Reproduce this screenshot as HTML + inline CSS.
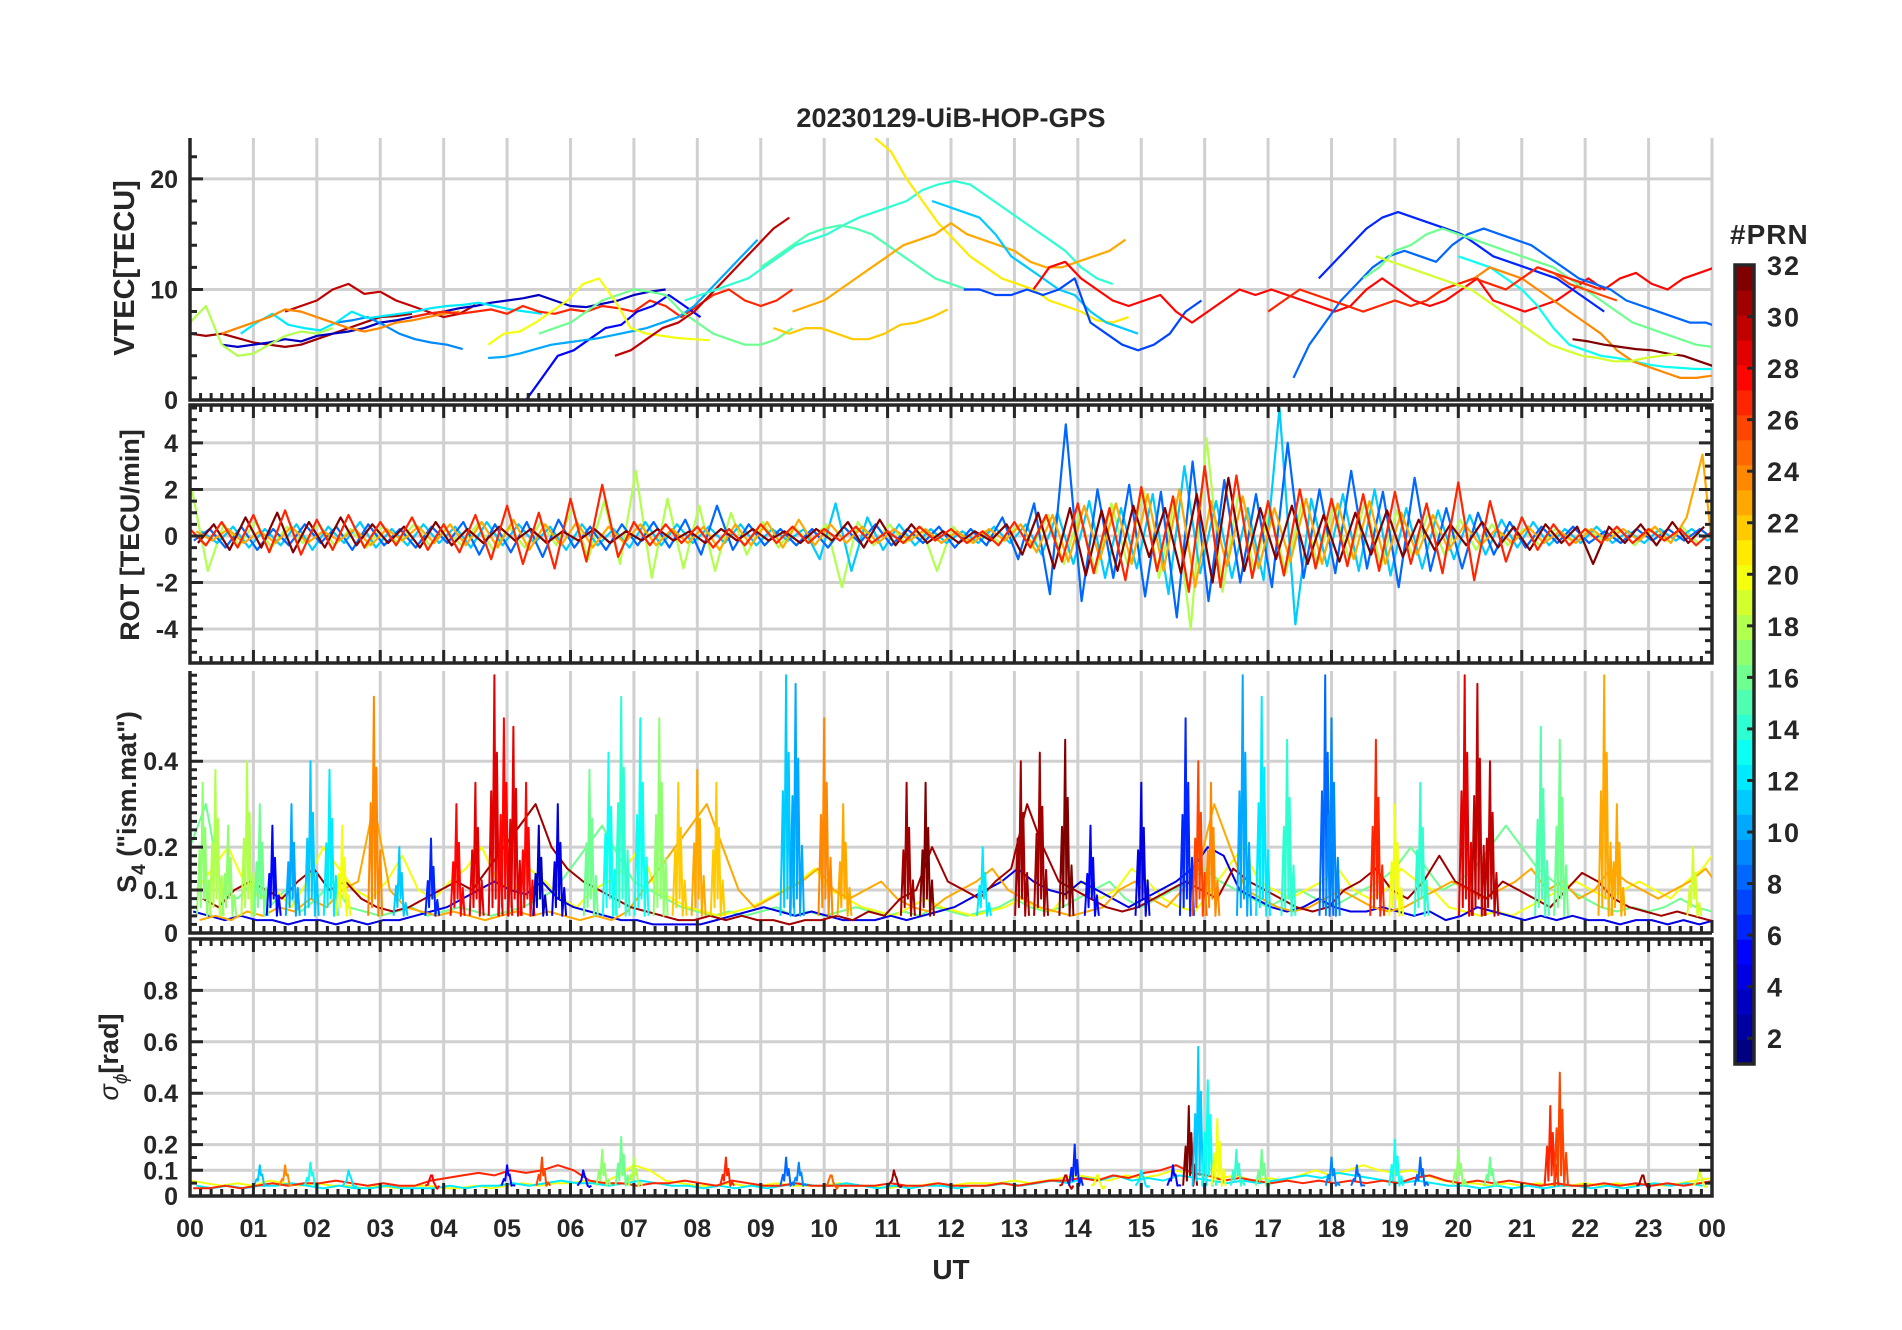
<!DOCTYPE html>
<html><head><meta charset="utf-8"><title>20230129-UiB-HOP-GPS</title>
<style>
html,body{margin:0;padding:0;background:#fff;}
svg{display:block;}
text{font-family:"Liberation Sans",sans-serif;font-weight:bold;fill:#262626;}
</style></head>
<body>
<svg id="chart" width="1902" height="1330" viewBox="0 0 1902 1330" xmlns="http://www.w3.org/2000/svg">
<rect x="0" y="0" width="1902" height="1330" fill="#fff"/>
<text x="951" y="127" text-anchor="middle" font-size="27">20230129-UiB-HOP-GPS</text>
<text x="951" y="1279" text-anchor="middle" font-size="28">UT</text>
<text transform="translate(134,268) rotate(-90)" text-anchor="middle" font-size="29">VTEC[TECU]</text>
<text transform="translate(139,535) rotate(-90)" text-anchor="middle" font-size="27">ROT [TECU/min]</text>
<text transform="translate(136,802) rotate(-90)" text-anchor="middle" font-size="27">S<tspan font-size="19" dy="9">4</tspan><tspan dy="-9"> ("ism.mat")</tspan></text>
<text transform="translate(118,1057) rotate(-90)" text-anchor="middle" font-size="27"><tspan font-style="italic" font-weight="normal">σ</tspan><tspan font-size="19" font-style="italic" font-weight="normal" dy="9">ϕ</tspan><tspan dy="-9">[rad]</tspan></text>
<text x="1730" y="244" font-size="28" letter-spacing="1">#PRN</text>
<g id="root"></g>
</svg>
<script>
// ---------- data ----------
const hourLabels = ["00","01","02","03","04","05","06","07","08","09","10","11","12","13","14","15","16","17","18","19","20","21","22","23","00"];
const colorbarTicks = [2,4,6,8,10,12,14,16,18,20,22,24,26,28,30,32];

// VTEC tracks (dt = 0.25 h)
const vtecPrn   = [31,30,3,9,18,12,24,27,5,10,16,20,30,14,15,21,23,11,22,7,28,6,8,16,13,24,32,27,26,19];
const vtecStart = [0,1.5,0.5,2.3,0,0.8,0.5,3.5,5.3,4.7,5.5,4.7,6.7,7.8,9,10.8,9.5,11.7,9.2,12.2,13.3,17.8,17.4,18.5,20,19.5,21.8,17,21.5,18.7];
const vtecVals = [
 [6,5.8,6,5.6,5.2,5,4.8,5,5.5,6,6.5,7,7.5,7.6,7.8],
 [8,8.5,9,10,10.5,9.6,9.8,9,8.5,8,7.5,7.8,8.6],
 [5,4.8,5,5.2,5.5,5.3,5.8,6,6.2,6.5,7,7.2,7.5,7.8,8,8.3,8.5,8.8,9,9.2,9.5,9,8.5,8.4,8.7,9,9.5,9.8,10],
 [7,7.2,7.5,6.8,6,5.5,5.2,5,4.6],
 [7,8.5,5,4,4.2,5,5.8,6.2,6,6.5],
 [6,7,7.8,6.8,6.5,6.3,7,8,7.4,7.6,7.8,8,8.3,8.5,8.6,8.8,8.5,8.2,8,7.8],
 [6,6.5,7,7.5,8.2,8,7.5,7,6.5,6.2,6.5,7,7.2,7.5,7.8,8],
 [7.5,7.8,8,7.8,8,8.2,7.8,8.5,8,7.8,8.2,8,8.5,8.3,8,9,8.5,7.5,8.5,9.5,10,9,8.5,9,10],
 [0,2,4,4.5,5.5,6.5,6.8,8,8.5,9.5,8.5,7.5],
 [3.8,3.9,4.2,4.6,5,5.2,5.4,5.6,5.9,6.2,6.5,7,7.5,8.5,10,11.5,13,14.5],
 [6,6.5,7,8,9,9.5,10,9.8,9.5,8,7,6,5.5,5,5,5.5,6.5],
 [5,6,6.2,7,8,9,10.5,11,9,6.5,6,5.8,5.6,5.5,5.4],
 [4,4.5,5.5,6.5,7,8,9.5,11,12.5,14,15.5,16.5],
 [9,9.5,10,10.5,11,12,13,14,14.5,15,15.8,16.5,17,17.5,18,19,19.5,19.8,19.5,18.5,17.5,16.5,15.5,14.5,13.5,12,11,10.5],
 [12,13,14,15,15.5,15.8,15.5,15,14,13,12,11,10.5,10],
 [23.7,22.5,20,18,16,14.5,13,12,11,10.5,10,9,8.5,8,7.2,7,7.5],
 [8,8.5,9,10,11,12,13,14,14.5,15,16,15,14.5,14,13.5,12.5,12,12,12.5,13,13.5,14.5],
 [18,17.5,17,16.5,15,13,12,11,10,9.5,8,7,6.5,6],
 [6.5,6,6.5,6.5,6,5.5,5.5,6,6.8,7,7.5,8.2],
 [10,10,9.5,9.5,10,9.5,10,11,7,6,5,4.5,5,6,8,9],
 [10,12,12.5,11,10,9,8.5,9,9.5,8,7,8,9,10,9.5,10,9.5,9,8.5,8,8.5,10,11,10,9,8.5,9,10,11,9,8.5,8,8.5,9,10,11,10,11,11.5,10.5,10,11,11.5,12,11.5,11,9,8],
 [11,12.5,14,15.5,16.5,17,16.5,16,15.5,15,14,13,12.5,12,11.5,11,10,9,8],
 [2,5,7,9,10.5,12,13,13.5,13,12.5,14,15,15.5,15,14.5,14,13,12,11,10.5,10,9,8.5,8,7.5,7,7,6.5,6,5.5,5.5,5.5,5.2,5,5,4.8],
 [11,12,13.5,14,15,15.5,15,14.5,14,13.5,13,12.5,12,11,10,9,8,7,6.5,6,5.5,5,4.8,4.6,4.5,4.5,4.4,4.3,4.2,4.5,5,5.5],
 [13,12.5,12,11,10,8.5,6.5,5,4.5,4,3.8,3.5,3.2,3,2.9,2.8,2.8,2.8,2.8,3],
 [9,10,10.5,11,12,11.5,11,10,9,8,7,6,4.5,3.5,3,2.5,2,2,2.2,2.5,3,3.5,4,4.5,4.8,5,5.5,7,10,13,10],
 [5.5,5.3,5,4.8,4.6,4.5,4.2,4,3.5,3,3.2,3.5,3.8,4,4.2],
 [8,9,10,9.5,9,8.5,8,8.5,9,8.5,9,10,10.5,11,10.5,10,11,12,11.5,11,10.5,10],
 [11.5,10.5,10,9.5,9],
 [13,12.5,12,11.5,11,10.5,10,9,8,7,6,5,4.5,4,3.8,3.5,3.5,3.8,4,4.2]
];

// ROT series (dt = 0.25 h)
const rotPrn   = [18,11,8,23,32,27];
const rotStart = [0.03,0.18,0.06,0.1,0.125,0];
const rotVals = [
 [2.0,-1.5,0.5,-0.4,0.6,-0.5,0.4,-0.3,0.5,-0.4,0.3,-0.5,0.4,-0.3,0.5,-0.4,0.3,-0.4,0.5,-0.6,0.4,-0.5,0.6,-0.4,1.2,-1.0,1.5,-1.2,2.8,-1.8,1.6,-1.4,1.3,-1.5,1.0,-0.8,0.6,-0.5,0.4,-0.3,0.5,-2.2,0.6,-0.4,0.5,-0.3,0.4,-1.5,0.4,-0.3,0.2,-0.3,0.4,-0.5,0.9,-1.2,1.0,-1.6,1.4,-1.2,2.0,-1.8,1.6,-4.0,4.2,-2.4,1.8,-1.5,1.2,-1.6,1.4,-1.2,1.3,-1.0,1.5,-1.3,1.1,-0.9,1.0,-0.8,0.7,-0.6,0.5,-0.4,0.3,-0.4,0.3,-0.2,0.3,-0.2,0.3,-0.4,0.3,-0.2,0.4,-0.3],
 [0.2,-0.3,0.4,-0.5,0.3,-0.4,0.5,-0.6,0.4,-0.3,0.6,-0.5,0.3,-0.4,0.5,-0.3,0.4,-0.5,0.6,-0.4,0.5,-0.3,0.4,-0.6,0.5,-0.4,0.3,-0.5,0.6,-0.4,0.5,-0.3,0.4,-0.3,0.5,-0.4,0.3,-0.2,0.3,-1.0,1.4,-1.5,0.8,-0.6,0.5,-0.4,0.3,-0.3,0.2,-0.3,0.4,-0.3,0.5,-0.8,1.0,-1.2,1.5,-1.8,1.2,-1.4,1.8,-2.5,3.0,-1.6,1.5,-1.8,1.2,-1.9,5.5,-3.8,1.6,-1.3,1.8,-1.5,2.0,-1.7,1.2,-1.4,1.1,-1.0,0.9,-0.8,0.7,-0.5,0.6,-0.4,0.3,-0.3,0.4,-0.3,0.2,-0.3,0.3,-0.2,0.3,-0.2,0.3],
 [-0.2,0.3,-0.5,0.4,-0.6,0.3,-0.4,0.5,-0.3,0.4,-0.6,0.5,-0.4,0.3,-0.5,0.4,-0.3,0.6,-0.8,0.5,-0.7,0.6,-0.9,0.7,-0.5,0.4,-0.6,0.5,-0.4,0.6,-0.5,0.7,-0.8,1.3,-0.6,0.5,-0.4,0.3,-0.4,0.3,-0.5,0.4,-0.3,0.5,-0.4,0.3,-0.3,0.4,-0.5,0.3,-0.4,0.8,-1.0,1.4,-2.5,4.8,-2.8,2.0,-1.8,2.2,-2.6,1.9,-3.5,3.2,-2.8,2.4,-2.0,1.8,-2.2,4.0,-1.8,2.0,-1.6,2.8,-1.4,1.9,-2.2,2.5,-1.5,1.2,-1.4,1.0,-0.8,0.6,-0.5,0.4,-0.3,0.4,-0.3,0.2,-0.3,0.3,-0.2,0.3,-0.2,0.3,-0.2],
 [0.2,-0.2,0.3,-0.3,0.2,-0.3,0.4,-0.3,0.2,-0.2,0.3,-0.4,0.3,-0.2,0.4,-0.3,0.5,-0.4,0.6,-0.5,0.7,-0.6,0.5,-0.4,0.6,-0.5,0.4,-0.3,0.5,-0.4,0.3,-0.3,0.4,-0.6,0.5,-0.4,0.6,-0.5,0.7,-0.4,0.5,-0.3,0.4,-0.3,0.3,-0.2,0.3,-0.3,0.2,-0.3,0.3,-0.2,0.5,-0.7,0.9,-1.1,1.3,-1.0,1.4,-1.2,1.8,-1.5,2.0,-2.2,1.5,-1.3,1.7,-1.4,1.2,-1.1,1.6,-1.2,1.4,-1.0,1.5,-1.2,1.0,-0.8,0.9,-0.6,0.5,-0.4,0.3,-0.3,0.4,-0.3,0.2,-0.3,0.3,-0.2,0.3,-0.2,0.4,-0.3,0.8,3.5,-3.0],
 [-0.3,0.5,-0.6,0.8,-0.5,1.0,-0.7,0.6,-0.5,0.8,-0.4,0.5,-0.3,0.4,-0.5,0.6,-0.4,0.3,-0.3,0.4,-0.2,0.3,-0.3,0.2,-0.2,0.3,-0.3,0.2,-0.2,0.3,-0.2,0.2,-0.3,0.3,-0.2,0.3,-0.2,0.2,-0.3,0.3,-0.2,0.6,-0.5,0.7,-0.4,0.5,-0.3,0.2,-0.3,0.2,-0.2,0.5,-0.8,1.0,-1.4,1.2,-1.7,1.1,-1.5,1.3,-0.9,1.2,-1.6,1.8,-2.0,2.5,-1.5,1.2,-1.0,1.3,-1.2,0.9,-1.1,1.0,-0.8,1.1,-0.9,0.7,-0.6,0.5,-0.4,0.6,-0.5,0.4,-0.6,0.5,-0.3,0.4,-1.2,0.4,-0.3,0.5,-0.4,0.6,-0.3,0.4],
 [0.3,-0.4,0.6,-0.5,0.9,-0.7,1.1,-0.8,0.7,-0.6,0.9,-0.5,0.6,-0.4,0.8,-0.6,0.5,-0.7,0.9,-1.0,1.3,-1.2,1.0,-1.4,1.6,-1.1,2.2,-0.9,0.6,-0.4,0.5,-0.3,0.4,-0.5,0.3,-0.4,0.5,-0.3,0.4,-0.3,0.3,-0.2,0.4,-0.3,0.2,-0.3,0.4,-0.2,0.3,-0.3,0.2,-0.4,0.6,-0.5,0.9,-1.1,1.4,-1.6,1.2,-1.9,2.1,-1.5,1.7,-2.4,3.0,-2.2,2.6,-1.8,1.5,-1.7,2.0,-1.4,1.6,-1.3,1.8,-1.5,1.9,-1.2,1.4,-1.6,2.3,-1.9,1.5,-1.1,0.8,-0.6,0.5,-0.4,0.3,-0.3,0.4,-0.3,0.3,-0.2,0.3,-0.4,0.2]
];

// S4 baseline series (dt = 0.25 h)
const s4Prn = [16,20,4,23,31];
const s4Start = [0,0.1,0.05,0.15,0.2];
const s4Vals = [
 [0.2,0.3,0.1,0.08,0.12,0.06,0.1,0.05,0.08,0.12,0.06,0.05,0.04,0.05,0.06,0.04,0.05,0.06,0.05,0.04,0.05,0.06,0.08,0.1,0.15,0.2,0.25,0.18,0.12,0.1,0.08,0.06,0.05,0.04,0.05,0.04,0.05,0.06,0.04,0.05,0.04,0.05,0.06,0.05,0.04,0.05,0.04,0.06,0.05,0.04,0.05,0.06,0.08,0.06,0.05,0.06,0.08,0.1,0.12,0.08,0.06,0.08,0.1,0.12,0.15,0.12,0.1,0.08,0.06,0.08,0.1,0.08,0.06,0.08,0.1,0.12,0.15,0.2,0.15,0.1,0.12,0.15,0.2,0.25,0.2,0.15,0.12,0.1,0.08,0.06,0.05,0.06,0.05,0.06,0.08,0.06,0.05],
 [0.1,0.15,0.2,0.12,0.08,0.1,0.06,0.12,0.2,0.15,0.1,0.08,0.12,0.18,0.1,0.08,0.12,0.15,0.2,0.12,0.1,0.15,0.12,0.08,0.06,0.1,0.12,0.15,0.2,0.1,0.08,0.06,0.05,0.04,0.05,0.06,0.08,0.1,0.12,0.15,0.1,0.08,0.06,0.05,0.04,0.06,0.08,0.06,0.05,0.04,0.05,0.06,0.08,0.06,0.05,0.1,0.12,0.08,0.1,0.15,0.12,0.08,0.06,0.05,0.1,0.15,0.2,0.12,0.1,0.08,0.1,0.12,0.15,0.1,0.08,0.1,0.15,0.12,0.1,0.06,0.05,0.04,0.05,0.04,0.06,0.08,0.1,0.12,0.1,0.08,0.1,0.12,0.1,0.08,0.12,0.15,0.2],
 [0.05,0.04,0.03,0.04,0.03,0.03,0.02,0.03,0.03,0.02,0.03,0.02,0.03,0.03,0.04,0.05,0.06,0.08,0.1,0.12,0.1,0.09,0.12,0.08,0.06,0.05,0.04,0.03,0.03,0.02,0.02,0.02,0.02,0.03,0.04,0.05,0.06,0.05,0.04,0.05,0.04,0.03,0.03,0.03,0.04,0.03,0.04,0.05,0.06,0.08,0.1,0.12,0.15,0.12,0.1,0.09,0.12,0.1,0.08,0.06,0.08,0.1,0.12,0.15,0.2,0.18,0.1,0.08,0.06,0.05,0.06,0.08,0.06,0.05,0.05,0.06,0.05,0.04,0.05,0.03,0.04,0.06,0.05,0.04,0.03,0.04,0.03,0.04,0.03,0.03,0.02,0.03,0.03,0.02,0.03,0.02,0.03],
 [0.03,0.04,0.03,0.05,0.04,0.06,0.05,0.08,0.06,0.1,0.12,0.3,0.1,0.06,0.05,0.04,0.05,0.04,0.03,0.04,0.05,0.04,0.05,0.04,0.03,0.04,0.03,0.05,0.1,0.15,0.2,0.25,0.3,0.2,0.1,0.06,0.08,0.1,0.12,0.15,0.1,0.08,0.1,0.12,0.08,0.06,0.05,0.08,0.1,0.12,0.15,0.1,0.08,0.06,0.05,0.04,0.05,0.06,0.1,0.12,0.08,0.06,0.1,0.15,0.3,0.2,0.1,0.08,0.06,0.05,0.06,0.08,0.1,0.08,0.06,0.05,0.06,0.08,0.1,0.12,0.1,0.08,0.1,0.12,0.15,0.1,0.12,0.08,0.1,0.15,0.12,0.1,0.08,0.1,0.12,0.15,0.1],
 [0.08,0.06,0.1,0.12,0.1,0.08,0.12,0.15,0.1,0.12,0.08,0.06,0.05,0.06,0.08,0.1,0.12,0.1,0.15,0.2,0.25,0.3,0.2,0.15,0.12,0.1,0.08,0.06,0.05,0.04,0.03,0.03,0.04,0.03,0.04,0.03,0.03,0.02,0.03,0.03,0.04,0.03,0.05,0.04,0.08,0.1,0.2,0.12,0.1,0.08,0.12,0.15,0.3,0.2,0.12,0.1,0.08,0.06,0.05,0.06,0.08,0.1,0.12,0.1,0.08,0.15,0.12,0.1,0.08,0.06,0.05,0.06,0.1,0.12,0.15,0.1,0.08,0.12,0.18,0.12,0.1,0.08,0.12,0.1,0.08,0.06,0.1,0.14,0.12,0.08,0.06,0.05,0.04,0.05,0.04,0.03,0.02]
];
// S4 scintillation spikes
const s4SpikeT   = [0.2,0.4,0.6,0.9,1.1,1.3,1.6,1.9,2.2,2.4,2.9,3.3,3.8,4.2,4.5,4.8,4.95,5.1,5.3,5.5,5.8,6.3,6.6,6.8,7.1,7.4,7.7,8.0,8.3,9.4,9.55,10.0,10.3,11.3,11.6,12.5,13.1,13.4,13.8,14.2,15.0,15.7,15.9,16.1,16.6,16.9,17.3,17.9,18.0,18.7,19.0,19.4,20.1,20.3,20.5,21.3,21.6,22.3,22.5,23.7];
const s4SpikeH   = [0.35,0.38,0.25,0.4,0.3,0.25,0.3,0.4,0.38,0.25,0.55,0.2,0.22,0.3,0.35,0.6,0.5,0.48,0.35,0.25,0.3,0.38,0.42,0.55,0.5,0.5,0.35,0.38,0.35,0.6,0.58,0.5,0.3,0.35,0.35,0.2,0.4,0.42,0.45,0.25,0.35,0.5,0.4,0.35,0.6,0.55,0.45,0.6,0.5,0.45,0.3,0.35,0.6,0.58,0.4,0.48,0.45,0.6,0.3,0.2];
const s4SpikePrn = [17,18,17,18,16,5,10,11,12,20,24,11,6,28,29,29,28,29,28,3,4,16,13,14,13,17,22,23,22,11,10,24,23,31,32,12,31,31,32,5,4,6,26,24,10,12,14,8,9,27,20,14,29,30,30,15,16,23,23,19];

// sigma-phi baseline series (dt = 0.25 h)
const sigPrn = [20,12,27];
const sigStart = [0,0.1,0.05];
const sigVals = [
 [0.06,0.05,0.04,0.05,0.04,0.06,0.05,0.04,0.05,0.04,0.04,0.03,0.04,0.03,0.04,0.04,0.03,0.03,0.04,0.03,0.04,0.05,0.04,0.05,0.05,0.06,0.05,0.08,0.12,0.1,0.06,0.05,0.04,0.04,0.05,0.04,0.04,0.05,0.04,0.04,0.04,0.05,0.04,0.04,0.03,0.04,0.04,0.05,0.04,0.05,0.05,0.05,0.06,0.05,0.06,0.07,0.08,0.07,0.06,0.08,0.07,0.08,0.1,0.09,0.08,0.07,0.08,0.06,0.07,0.06,0.08,0.1,0.08,0.1,0.12,0.1,0.09,0.1,0.08,0.06,0.05,0.05,0.04,0.05,0.04,0.05,0.04,0.04,0.05,0.04,0.05,0.04,0.05,0.04,0.05,0.06,0.07],
 [0.04,0.03,0.04,0.03,0.04,0.04,0.05,0.04,0.03,0.04,0.03,0.03,0.04,0.03,0.03,0.03,0.04,0.03,0.04,0.04,0.05,0.04,0.05,0.06,0.05,0.05,0.04,0.05,0.06,0.05,0.04,0.04,0.03,0.04,0.03,0.04,0.03,0.04,0.05,0.04,0.04,0.05,0.04,0.03,0.04,0.03,0.04,0.04,0.03,0.04,0.04,0.05,0.04,0.05,0.06,0.05,0.07,0.06,0.08,0.06,0.07,0.06,0.08,0.07,0.06,0.05,0.06,0.05,0.06,0.07,0.08,0.07,0.09,0.08,0.07,0.06,0.05,0.06,0.05,0.04,0.04,0.03,0.04,0.03,0.04,0.03,0.04,0.04,0.03,0.04,0.03,0.04,0.05,0.04,0.05,0.04],
 [0.03,0.03,0.04,0.03,0.04,0.05,0.04,0.05,0.05,0.06,0.05,0.04,0.05,0.04,0.04,0.06,0.07,0.08,0.09,0.08,0.1,0.09,0.1,0.12,0.1,0.06,0.05,0.05,0.04,0.05,0.05,0.06,0.05,0.04,0.06,0.05,0.04,0.04,0.05,0.04,0.04,0.04,0.04,0.04,0.05,0.04,0.04,0.05,0.04,0.04,0.04,0.05,0.04,0.05,0.06,0.06,0.07,0.06,0.08,0.07,0.09,0.1,0.12,0.09,0.08,0.06,0.07,0.06,0.05,0.06,0.05,0.06,0.05,0.06,0.05,0.06,0.05,0.07,0.08,0.06,0.05,0.06,0.05,0.06,0.05,0.04,0.05,0.04,0.04,0.05,0.04,0.05,0.04,0.05,0.04,0.05,0.06]
];
const sigSpikeT   = [1.1,1.5,1.9,2.5,3.8,5.0,5.55,6.2,6.5,6.8,7.0,8.45,9.4,9.6,10.1,11.1,13.8,13.95,14.3,15.0,15.5,15.75,15.9,16.05,16.2,16.5,16.9,18.0,18.4,19.0,19.4,20.0,20.5,21.45,21.6,22.9,23.8];
const sigSpikeH   = [0.12,0.12,0.13,0.1,0.08,0.12,0.15,0.1,0.18,0.23,0.15,0.15,0.15,0.13,0.08,0.1,0.08,0.2,0.08,0.1,0.12,0.35,0.58,0.45,0.3,0.18,0.18,0.15,0.12,0.22,0.15,0.18,0.15,0.35,0.48,0.08,0.1];
const sigSpikePrn = [11,24,13,12,28,5,26,5,17,16,18,27,8,9,25,31,30,6,20,12,5,32,11,13,20,14,16,9,8,13,8,17,16,27,26,31,19];

// ---------- rendering ----------
const NS = "http://www.w3.org/2000/svg";
const root = document.getElementById("root");
const L = 190, R = 1712;
const AX = "#262626", GRID = "#d0d0d0";
function el(tag, attrs, parent){ const e=document.createElementNS(NS,tag); for(const k in attrs) e.setAttribute(k,attrs[k]); (parent||root).appendChild(e); return e; }
function xs(h){ return L + (R-L)*h/24; }
function jet(p){
  const v=(p-1)/31;
  const c=x=>Math.round(255*Math.max(0,Math.min(1,x)));
  return `rgb(${c(1.5-Math.abs(4*v-3))},${c(1.5-Math.abs(4*v-2))},${c(1.5-Math.abs(4*v-1))})`;
}

function makePanel(name, top, bot, ymin, ymax, majors, majorLabels, gridVals, minorStep, showX, boxed){
  const ys = v => bot - (v-ymin)/(ymax-ymin)*(bot-top);
  const g = el("g",{});
  
  
  for(let h=1; h<=24; h++){
    const gl = el("line",{x1:xs(h),x2:xs(h),y1:top,y2:bot,stroke:GRID,"stroke-width":3},g);
    
    
  }
  gridVals.forEach(v=>{
    const gl = el("line",{x1:L,x2:R,y1:ys(v),y2:ys(v),stroke:GRID,"stroke-width":3},g);
    
    
  });
  const cid = name+"-clip";
  const cp = el("clipPath",{id:cid},g); el("rect",{x:L,y:top,width:R-L,height:bot-top},cp);
  const dataG = el("g",{"clip-path":`url(#${cid})`},g);
  
  
  let d="";
  for(let m=0;m<=144;m++){
    const x=xs(m/6), len = (m%6===0)?13:7;
    d+=`M${x} ${bot}v${-len}`;
    if(boxed) d+=`M${x} ${top}v${len}`;
  }
  const start = Math.ceil(ymin/minorStep-1e-6);
  for(let k=start; k*minorStep<=ymax+1e-9; k++){
    const v=k*minorStep; const isMaj = majors.some(m=>Math.abs(m-v)<1e-6);
    const len = isMaj?13:7;
    d+=`M${L} ${ys(v)}h${len}`;
    if(boxed) d+=`M${R} ${ys(v)}h${-len}`;
  }
  const tk = el("path",{d:d,stroke:AX,"stroke-width":3,fill:"none"},g);
  
  
  let fd = boxed ? `M${L} ${top}H${R}V${bot}H${L}Z` : `M${L} ${top}V${bot}H${R}`;
  const fr = el("path",{d:fd,fill:"none",stroke:AX,"stroke-width":3.5},g);
  
  
  majors.forEach((v,i)=>{
    const t = el("text",{x:178,y:ys(v)+9,"text-anchor":"end","font-size":25},g);
    t.textContent = majorLabels[i];
    
    
  });
  if(showX){
    hourLabels.forEach((lab,h)=>{
      const t = el("text",{x:xs(h),y:1237,"text-anchor":"middle","font-size":25},g);
      t.textContent = lab;
      
      
    });
  }
  return {ys, dataG};
}

function drawSeries(panel, name, prns, starts, vals, width){
  vals.forEach((arr,i)=>{
    const pts = arr.map((v,j)=>`${xs(starts[i]+j*0.25).toFixed(1)},${panel.ys(v).toFixed(1)}`).join(" ");
    const pl = el("polyline",{points:pts,fill:"none",stroke:jet(prns[i]),"stroke-width":width,"stroke-linejoin":"round"},panel.dataG);
    
    
  });
}
function drawSpikes(panel, name, ts, hs, prns, base){
  ts.forEach((t,i)=>{
    const h=hs[i];
    const pts=[[t-0.09,base],[t-0.05,h*0.55],[t-0.03,base*1.5],[t,h],[t+0.02,base*2],[t+0.04,h*0.7],[t+0.07,base],[t+0.1,h*0.35],[t+0.13,base]]
      .map(p=>`${xs(p[0]).toFixed(1)},${panel.ys(p[1]).toFixed(1)}`).join(" ");
    const pl = el("polyline",{points:pts,fill:"none",stroke:jet(prns[i]),"stroke-width":2,"stroke-linejoin":"round"},panel.dataG);
    
    
  });
}

const p1 = makePanel("vtec",138,400,0,23.7,[0,10,20],["0","10","20"],[10,20],2,false,false);
drawSeries(p1,"vtec",vtecPrn,vtecStart,vtecVals,2.2);
const p2 = makePanel("rot",405,663,-5.46,5.63,[-4,-2,0,2,4],["-4","-2","0","2","4"],[-4,-2,0,2,4],0.5,false,true);
drawSeries(p2,"rot",rotPrn,rotStart,rotVals,2.2);
const p3 = makePanel("s4",671,933,0,0.61,[0,0.1,0.2,0.4],["0","0.1","0.2","0.4"],[0.1,0.2,0.4],0.02,false,false);
drawSeries(p3,"s4",s4Prn,s4Start,s4Vals,2);
drawSpikes(p3,"s4",s4SpikeT,s4SpikeH,s4SpikePrn,0.04);
const p4 = makePanel("sigma",939,1196,0,1,[0,0.1,0.2,0.4,0.6,0.8],["0","0.1","0.2","0.4","0.6","0.8"],[0.1,0.2,0.4,0.6,0.8],0.05,true,true);
drawSeries(p4,"sigma",sigPrn,sigStart,sigVals,2);
drawSpikes(p4,"sigma",sigSpikeT,sigSpikeH,sigSpikePrn,0.04);

// colorbar
const cbL=1735, cbR=1754, cbT=265, cbB=1064;
const cb = el("g",{});


const cy = v => cbB - (v-1)/31*(cbB-cbT);
for(let p=1;p<=32;p++){
  const r = el("rect",{x:cbL,y:cbB-(p)/32*(cbB-cbT),width:cbR-cbL,height:(cbB-cbT)/32+0.6,fill:jet(p)},cb);
  
  
}
const cf = el("rect",{x:cbL,y:cbT,width:cbR-cbL,height:cbB-cbT,fill:"none",stroke:AX,"stroke-width":3.5},cb);


colorbarTicks.forEach(v=>{
  const y = cy(v);
  const tl = el("line",{x1:cbR-7,x2:cbR,y1:y,y2:y,stroke:AX,"stroke-width":3},cb);
  
  
  const t = el("text",{x:1767,y:y+10,"font-size":27,"letter-spacing":"2"},cb);
  t.textContent = String(v);
  
  
});
</script>
</body></html>
